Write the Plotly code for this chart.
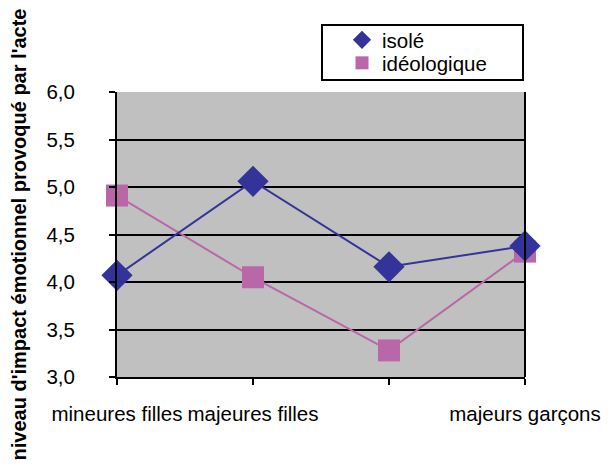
import plotly.graph_objects as go

categories = ["mineures filles", "majeures filles", "mineurs garçons", "majeurs garçons"]
tick_labels = ["mineures filles", "majeures filles", "", "majeurs garçons"]
isole = [4.07, 5.06, 4.16, 4.38]
ideologique = [4.91, 4.05, 3.28, 4.32]
y_ticks = [3.0, 3.5, 4.0, 4.5, 5.0, 5.5, 6.0]

COL_ISO = "#333399"
COL_IDEO = "#B967A9"
FS = 20.5

x_pos = list(range(len(categories)))

fig = go.Figure()
fig.add_trace(go.Scatter(
    x=x_pos, y=ideologique, name="idéologique", mode="lines+markers",
    line=dict(color=COL_IDEO, width=2),
    marker=dict(symbol="square", size=22, color=COL_IDEO),
    cliponaxis=False, showlegend=False,
))
fig.add_trace(go.Scatter(
    x=x_pos, y=isole, name="isolé", mode="lines+markers",
    line=dict(color=COL_ISO, width=2),
    marker=dict(symbol="diamond", size=24, color=COL_ISO),
    cliponaxis=False, showlegend=False,
))
# legend entries (markers only, as in the original)
fig.add_trace(go.Scatter(x=[None], y=[None], name="isolé", mode="markers",
                         marker=dict(symbol="diamond", size=14, color=COL_ISO),
                         legend="legend"))
fig.add_trace(go.Scatter(x=[None], y=[None], name="idéologique", mode="markers",
                         marker=dict(symbol="square", size=13, color=COL_IDEO),
                         legend="legend2"))

# plot area in viewport pixels: x 117..525, y 92..377 (page body adds 8px offset)
def px_x(v):
    return (v - 117) / 408

def px_y(v):
    return (377 - v) / 285

leg_common = dict(xanchor="left", yanchor="top", borderwidth=0,
                  bgcolor="rgba(0,0,0,0)", font=dict(size=FS))

fig.update_layout(
    width=611, height=468,
    margin=dict(l=109, r=94, t=84, b=99),
    paper_bgcolor="white", plot_bgcolor="#C0C0C0",
    separators=", ",
    font=dict(family="Liberation Sans, Arial", size=FS, color="black"),
    showlegend=True,
    legend=dict(x=px_x(342), y=px_y(20), **leg_common),
    legend2=dict(x=px_x(342), y=px_y(43), **leg_common),
    xaxis=dict(
        range=[0, 3], tickmode="array", tickvals=x_pos, ticktext=tick_labels,
        showgrid=False, zeroline=False, automargin=False,
        showline=True, linecolor="black", linewidth=2, mirror=False,
        ticks="outside", ticklen=6, tickwidth=2, tickcolor="black",
        tickfont=dict(size=FS), ticklabelstandoff=11,
    ),
    yaxis=dict(
        range=[3, 6], tickmode="array", tickvals=y_ticks, tickformat=".1f",
        showgrid=True, gridcolor="black", gridwidth=2, zeroline=False,
        showline=True, linecolor="black", linewidth=2, automargin=False,
        ticks="outside", ticklen=6, tickwidth=2, tickcolor="black",
        tickfont=dict(size=FS), ticklabelstandoff=30,
        title=dict(text="<b>niveau d'impact émotionnel provoqué par l'acte</b>",
                   font=dict(size=20), standoff=24),
    ),
)

# right border of the plot area
fig.add_shape(type="line", xref="paper", yref="paper", x0=1, x1=1, y0=0, y1=1,
              line=dict(color="black", width=2))
# legend frame
fig.add_shape(type="rect", xref="paper", yref="paper",
              x0=px_x(322), x1=px_x(523), y0=px_y(80), y1=px_y(25),
              line=dict(color="black", width=2), fillcolor="white", layer="below")

fig.write_html("out.html")
